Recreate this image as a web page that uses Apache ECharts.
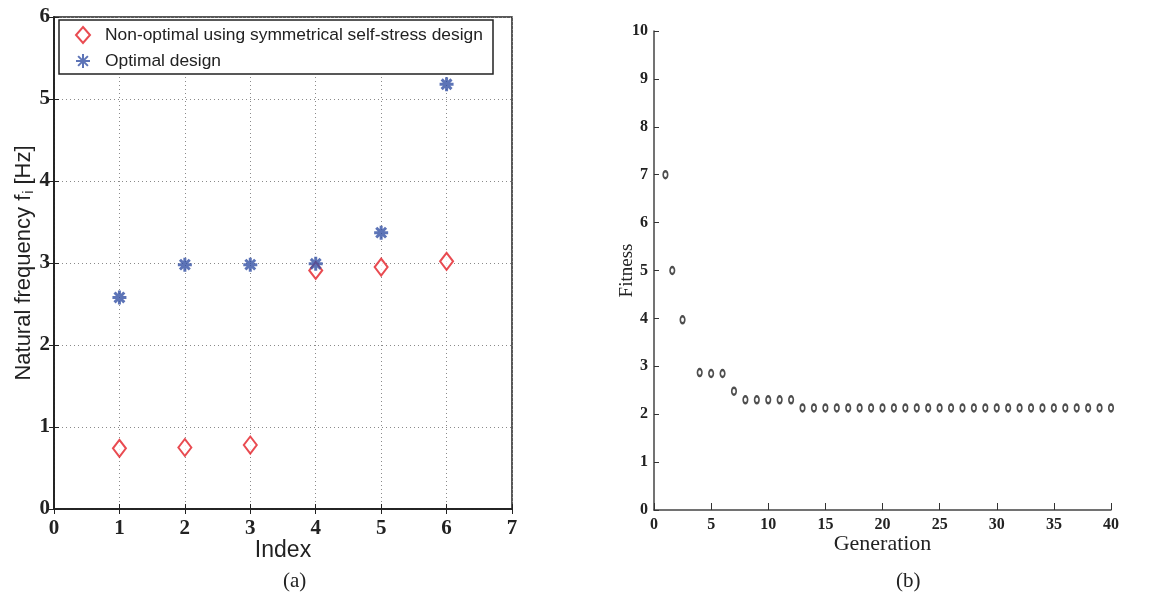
<!DOCTYPE html>
<html>
<head>
<meta charset="utf-8">
<script src="https://cdn.jsdelivr.net/npm/echarts@6/dist/echarts.min.js"></script>
<style>
html,body{margin:0;padding:0;background:#fff;}
#chart{width:1167px;height:598px;}
</style>
</head>
<body>
<div id="chart"></div>
<script>
// ---- Data: panel (a) ----
const modeIndex = [1, 2, 3, 4, 5, 6];
const nonOptimal = [0.74, 0.75, 0.78, 2.91, 2.95, 3.02];
const optimal = [2.58, 2.98, 2.98, 2.99, 3.37, 5.18];
const seriesNames = ['Non-optimal using symmetrical self-stress design', 'Optimal design'];

// ---- Data: panel (b) ----
const generation = [1, 1.6, 2.5, 4, 5, 6, 7, 8, 9, 10, 11, 12,
  13, 14, 15, 16, 17, 18, 19, 20, 21, 22, 23, 24, 25, 26, 27, 28, 29, 30,
  31, 32, 33, 34, 35, 36, 37, 38, 39, 40];
const fitness = [7.0, 5.0, 3.97, 2.87, 2.85, 2.85, 2.48, 2.30, 2.30, 2.30, 2.30, 2.30,
  2.13, 2.13, 2.13, 2.13, 2.13, 2.13, 2.13, 2.13, 2.13, 2.13, 2.13, 2.13, 2.13, 2.13, 2.13, 2.13, 2.13, 2.13,
  2.13, 2.13, 2.13, 2.13, 2.13, 2.13, 2.13, 2.13, 2.13, 2.13];

const captions = ['(a)', '(b)'];

const chart = echarts.init(document.getElementById('chart'), null, {renderer: 'canvas'});

const pair = (xs, ys) => xs.map((x, i) => [x, ys[i]]);
const tickFontA = {fontFamily: 'Liberation Serif', fontWeight: 'bold', fontSize: 21, color: '#222'};
const tickFontB = {fontFamily: 'Liberation Serif', fontWeight: 'bold', fontSize: 16, color: '#222'};
const dotted = {show: true, lineStyle: {color: '#8a8a8a', type: [1, 3], width: 1}};
const blackLine = {show: true, lineStyle: {color: '#222', width: 1.5}};

const option = {
  animation: false,
  backgroundColor: '#fff',
  grid: [
    {left: 54, right: 655, top: 17, bottom: 89, show: true, borderColor: '#222', borderWidth: 1.5, backgroundColor: 'transparent'},
    {left: 654, right: 56, top: 31, bottom: 88}
  ],
  legend: {
    data: seriesNames,
    orient: 'vertical',
    left: 59, top: 20,
    padding: [5, 8, 3, 16],
    itemGap: 6,
    itemWidth: 14, itemHeight: 16,
    backgroundColor: '#fff',
    borderColor: '#222', borderWidth: 1.5, borderRadius: 0,
    textStyle: {fontFamily: 'Liberation Sans', fontSize: 17.4, color: '#222', lineHeight: 20,
      width: 380, overflow: 'none', padding: [0, 0, 0, 10]}
  },
  xAxis: [
    {gridIndex: 0, type: 'value', min: 0, max: 7, interval: 1, position: 'bottom',
      axisLine: blackLine, axisTick: {show: true, inside: true, length: 5, lineStyle: {color: '#222'}},
      axisLabel: Object.assign({margin: 9}, tickFontA), splitLine: dotted,
      name: 'Index', nameLocation: 'middle', nameGap: 30, nameMoveOverlap: false,
      nameTextStyle: {fontFamily: 'Liberation Sans', fontSize: 23, color: '#222'}},
    {gridIndex: 0, type: 'value', min: 0, max: 7, interval: 1, position: 'top',
      axisLine: blackLine, axisTick: {show: true, inside: true, length: 5, lineStyle: {color: '#222'}},
      axisLabel: {show: false}, splitLine: {show: false}},
    {gridIndex: 1, type: 'value', min: 0, max: 40, interval: 5, position: 'bottom',
      axisLine: {show: true, onZero: false, lineStyle: {color: '#444', width: 1.5}},
      axisTick: {show: true, inside: true, length: 7, lineStyle: {color: '#333'}},
      axisLabel: Object.assign({margin: 7}, tickFontB), splitLine: {show: false},
      name: 'Generation', nameLocation: 'middle', nameGap: 23, nameMoveOverlap: false,
      nameTextStyle: {fontFamily: 'Liberation Serif', fontSize: 22, color: '#222'}}
  ],
  yAxis: [
    {gridIndex: 0, type: 'value', min: 0, max: 6, interval: 1, position: 'left',
      axisLine: blackLine, axisTick: {show: true, inside: true, length: 5, lineStyle: {color: '#222'}},
      axisLabel: Object.assign({margin: 4}, tickFontA), splitLine: dotted,
      name: 'Natural frequency f{sub|i} [Hz]', nameLocation: 'middle', nameGap: 18, nameRotate: 90,
      nameMoveOverlap: false,
      nameTextStyle: {fontFamily: 'Liberation Sans', fontSize: 22, color: '#222',
        rich: {sub: {fontFamily: 'Liberation Sans', fontSize: 14, color: '#222', padding: [10, 0, 0, 1]}}}},
    {gridIndex: 0, type: 'value', min: 0, max: 6, interval: 1, position: 'right',
      axisLine: blackLine, axisTick: {show: true, inside: true, length: 5, lineStyle: {color: '#222'}},
      axisLabel: {show: false}, splitLine: {show: false}},
    {gridIndex: 1, type: 'value', min: 0, max: 10, interval: 1, position: 'left',
      axisLine: {show: true, onZero: false, lineStyle: {color: '#444', width: 1.5}},
      axisTick: {show: true, inside: true, length: 5, lineStyle: {color: '#333'}},
      axisLabel: Object.assign({margin: 6}, tickFontB), splitLine: {show: false},
      name: 'Fitness', nameLocation: 'middle', nameGap: 17, nameRotate: 90, nameMoveOverlap: false,
      nameTextStyle: {fontFamily: 'Liberation Serif', fontSize: 19, color: '#222'}}
  ],
  series: [
    {name: seriesNames[0], type: 'scatter', xAxisIndex: 0, yAxisIndex: 0,
      data: pair(modeIndex, nonOptimal), symbol: 'emptyDiamond', symbolSize: [13, 17],
      itemStyle: {color: '#e31e26', borderWidth: 2.4}, z: 3},
    {name: seriesNames[1], type: 'scatter', xAxisIndex: 0, yAxisIndex: 0,
      data: pair(modeIndex, optimal),
      symbol: 'path://M10,0L10,20M0,10L20,10M3,3L17,17M3,17L17,3', symbolSize: 14,
      itemStyle: {color: 'rgba(0,0,0,0)', borderColor: '#3451a5', borderWidth: 3}, z: 4},
    {name: 'Fitness', type: 'scatter', xAxisIndex: 2, yAxisIndex: 2,
      data: pair(generation, fitness), symbol: 'emptyCircle', symbolSize: [4.5, 7],
      itemStyle: {color: '#222', borderWidth: 0.9}}
  ],
  graphic: [
    {type: 'text', left: 283, top: 571, style: {text: captions[0], font: '21px "Liberation Serif"', fill: '#222'}},
    {type: 'text', left: 896, top: 571, style: {text: captions[1], font: '21px "Liberation Serif"', fill: '#222'}}
  ]
};
chart.setOption(option);
</script>
</body>
</html>
